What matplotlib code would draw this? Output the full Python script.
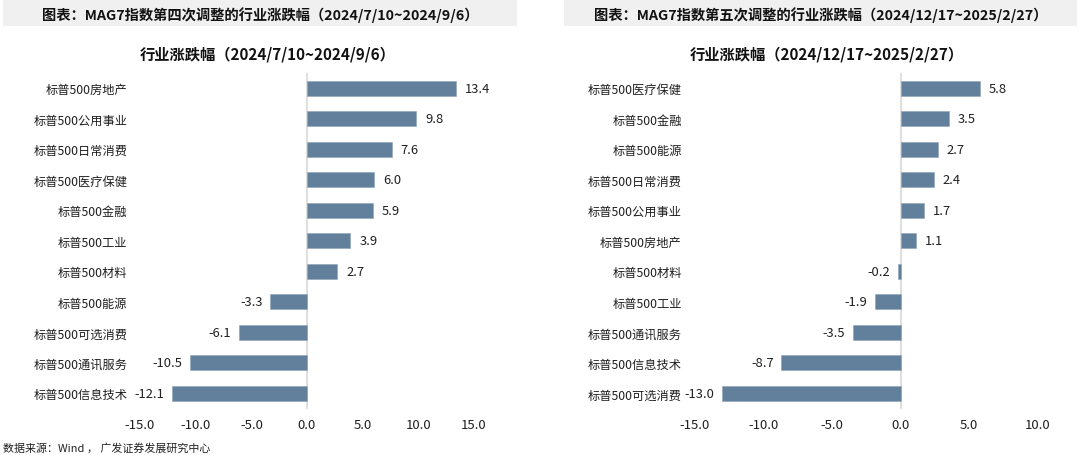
import matplotlib
matplotlib.use("Agg")
import matplotlib.pyplot as plt
from matplotlib.patches import Rectangle
from matplotlib.ticker import FormatStrFormatter

plt.rcParams['font.family'] = ['Noto Sans CJK SC', 'DejaVu Sans']
plt.rcParams['axes.unicode_minus'] = False

left_header = '图表：MAG7指数第四次调整的行业涨跌幅（2024/7/10~2024/9/6）'
left_title = '行业涨跌幅（2024/7/10~2024/9/6）'
left_cats = ['标普500房地产', '标普500公用事业', '标普500日常消费', '标普500医疗保健',
             '标普500金融', '标普500工业', '标普500材料', '标普500能源',
             '标普500可选消费', '标普500通讯服务', '标普500信息技术']
left_vals = [13.4, 9.8, 7.6, 6.0, 5.9, 3.9, 2.7, -3.3, -6.1, -10.5, -12.1]
left_ticks = [-15, -10, -5, 0, 5, 10, 15]

right_header = '图表：MAG7指数第五次调整的行业涨跌幅（2024/12/17~2025/2/27）'
right_title = '行业涨跌幅（2024/12/17~2025/2/27）'
right_cats = ['标普500医疗保健', '标普500金融', '标普500能源', '标普500日常消费',
              '标普500公用事业', '标普500房地产', '标普500材料', '标普500工业',
              '标普500通讯服务', '标普500信息技术', '标普500可选消费']
right_vals = [5.8, 3.5, 2.7, 2.4, 1.7, 1.1, -0.2, -1.9, -3.5, -8.7, -13.0]
right_ticks = [-15, -10, -5, 0, 5, 10]

source = '数据来源：Wind ， 广发证券发展研究中心'

W, H = 1080, 456
fig = plt.figure(figsize=(W / 100, H / 100), dpi=100)
fig.patch.set_facecolor('white')

BAR = '#62809B'
TXT = '#1f1f1f'


def fx(px):
    return px / W


def fy(py):
    return 1 - py / H


# header bars
for x0, x1, text in [(3, 517, left_header), (564, 1077, right_header)]:
    fig.patches.append(Rectangle((fx(x0), fy(27)), fx(x1 - x0), 26 / H,
                                 transform=fig.transFigure, facecolor='#F0F0F0',
                                 edgecolor='none', zorder=0))
    fig.text(fx((x0 + x1) / 2), fy(15), text, ha='center', va='center',
             fontsize=10.3, fontweight='bold', color='#111111')


def panel(rect, cats, vals, ticks, xlim, title, title_x, ypad):
    ax = fig.add_axes(rect)
    y = list(range(len(cats)))
    ax.barh(y, vals, height=0.5, color=BAR, edgecolor='#8DA3B8', linewidth=0.4, zorder=2)
    ax.set_ylim(len(cats) - 0.5, -0.5)
    ax.set_xlim(*xlim)
    ax.set_yticks(y)
    ax.set_yticklabels(cats, fontsize=8.8, color=TXT)
    ax.set_xticks(ticks)
    ax.xaxis.set_major_formatter(FormatStrFormatter('%.1f'))
    ax.tick_params(axis='x', labelsize=9.5, colors=TXT, length=0, pad=7)
    ax.tick_params(axis='y', length=0, pad=ypad)
    for s in ax.spines.values():
        s.set_visible(False)
    ax.axvline(0, color='#D9D9D9', linewidth=1.2, zorder=1)
    for yi, v in zip(y, vals):
        if v >= 0:
            ax.annotate(f'{v:.1f}', (v, yi), xytext=(6.5, 0), textcoords='offset points',
                        ha='left', va='center', fontsize=9.3, color=TXT)
        else:
            ax.annotate(f'{v:.1f}', (v, yi), xytext=(-5.5, 0), textcoords='offset points',
                        ha='right', va='center', fontsize=9.3, color=TXT)
    fig.text(fx(title_x), fy(54), title, ha='center', va='center',
             fontsize=11, fontweight='bold', color='#111111')
    return ax


axb = fy(409.6)
axh = 335.6 / H
panel([fx(140), axb, fx(334), axh], left_cats, left_vals, left_ticks, (-15, 15),
      left_title, 268, 9)
panel([fx(695), axb, fx(342.7), axh], right_cats, right_vals, right_ticks, (-15, 10),
      right_title, 827, 9.5)

fig.text(fx(3), fy(448), source, ha='left', va='center', fontsize=7.9, color=TXT)

fig.savefig('out.png', dpi=100, facecolor='white')
